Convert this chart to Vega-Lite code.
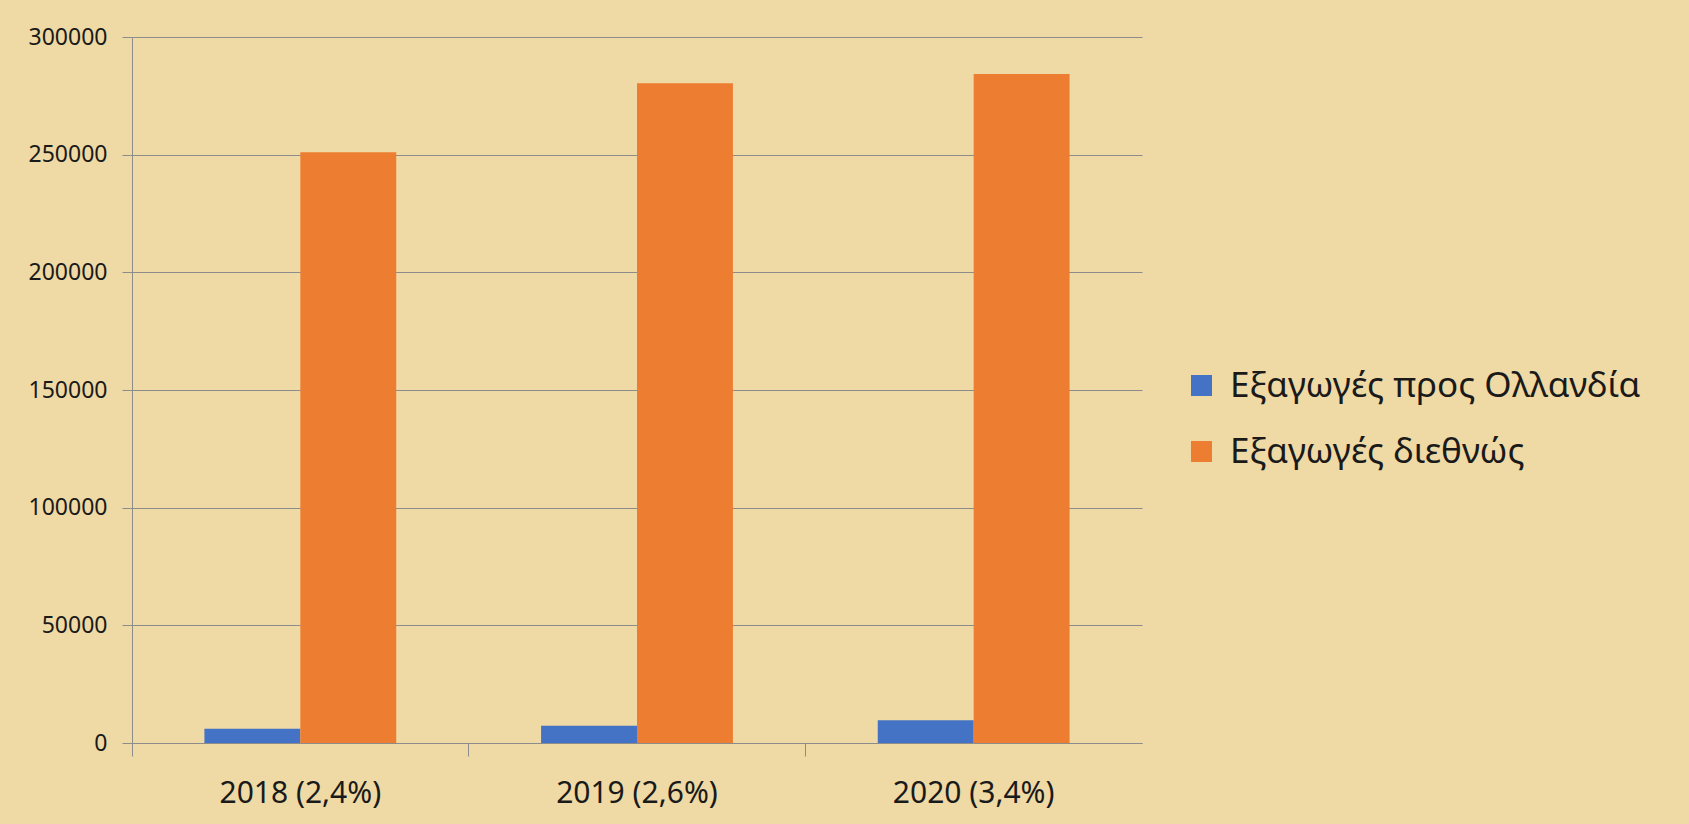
{
  "$schema": "https://vega.github.io/schema/vega-lite/v6.json",
  "width": 1010,
  "height": 706,
  "autosize": {"type": "none"},
  "padding": {"left": 132, "top": 37, "right": 547, "bottom": 81},
  "background": "#EFD9A4",
  "config": {"view": {"stroke": null}, "font": "Noto Sans"},
  "data": {"values": [
    {"year": "2018 (2,4%)", "series": "Εξαγωγές προς Ολλανδία", "value": 6030},
    {"year": "2018 (2,4%)", "series": "Εξαγωγές διεθνώς", "value": 251000},
    {"year": "2019 (2,6%)", "series": "Εξαγωγές προς Ολλανδία", "value": 7290},
    {"year": "2019 (2,6%)", "series": "Εξαγωγές διεθνώς", "value": 280300},
    {"year": "2020 (3,4%)", "series": "Εξαγωγές προς Ολλανδία", "value": 9670},
    {"year": "2020 (3,4%)", "series": "Εξαγωγές διεθνώς", "value": 284300}
  ]},
  "mark": {"type": "bar"},
  "encoding": {
    "x": {
      "field": "year", "type": "nominal", "sort": null,
      "scale": {"paddingInner": 0, "paddingOuter": 0},
      "axis": {
        "title": null, "labelAngle": 0, "labelFontSize": 30, "labelColor": "#1a1a1a",
        "tickSize": 13, "tickColor": "#8c8c8c", "domainColor": "#8c8c8c",
        "bandPosition": 0, "labelPadding": 22, "grid": false
      }
    },
    "xOffset": {
      "field": "series", "sort": null,
      "scale": {"paddingOuter": 0.755, "paddingInner": 0}
    },
    "y": {
      "field": "value", "type": "quantitative",
      "scale": {"domain": [0, 300000], "nice": false},
      "axis": {
        "title": null, "values": [0, 50000, 100000, 150000, 200000, 250000, 300000],
        "format": "d", "grid": true, "gridColor": "#8c8c8c", "tickColor": "#8c8c8c",
        "domainColor": "#8c8c8c", "tickSize": 10, "labelFontSize": 23,
        "labelColor": "#1a1a1a", "labelPadding": 15
      }
    },
    "color": {
      "field": "series", "type": "nominal", "sort": null,
      "scale": {"range": ["#4472C4", "#ED7D31"]},
      "legend": {
        "orient": "none", "legendX": 1052, "legendY": 331, "title": null,
        "symbolType": "square", "symbolSize": 441, "symbolStrokeWidth": 0,
        "labelFontSize": 35, "labelColor": "#1a1a1a", "labelOffset": 11,
        "rowPadding": 30, "labelLimit": 0
      }
    }
  }
}
